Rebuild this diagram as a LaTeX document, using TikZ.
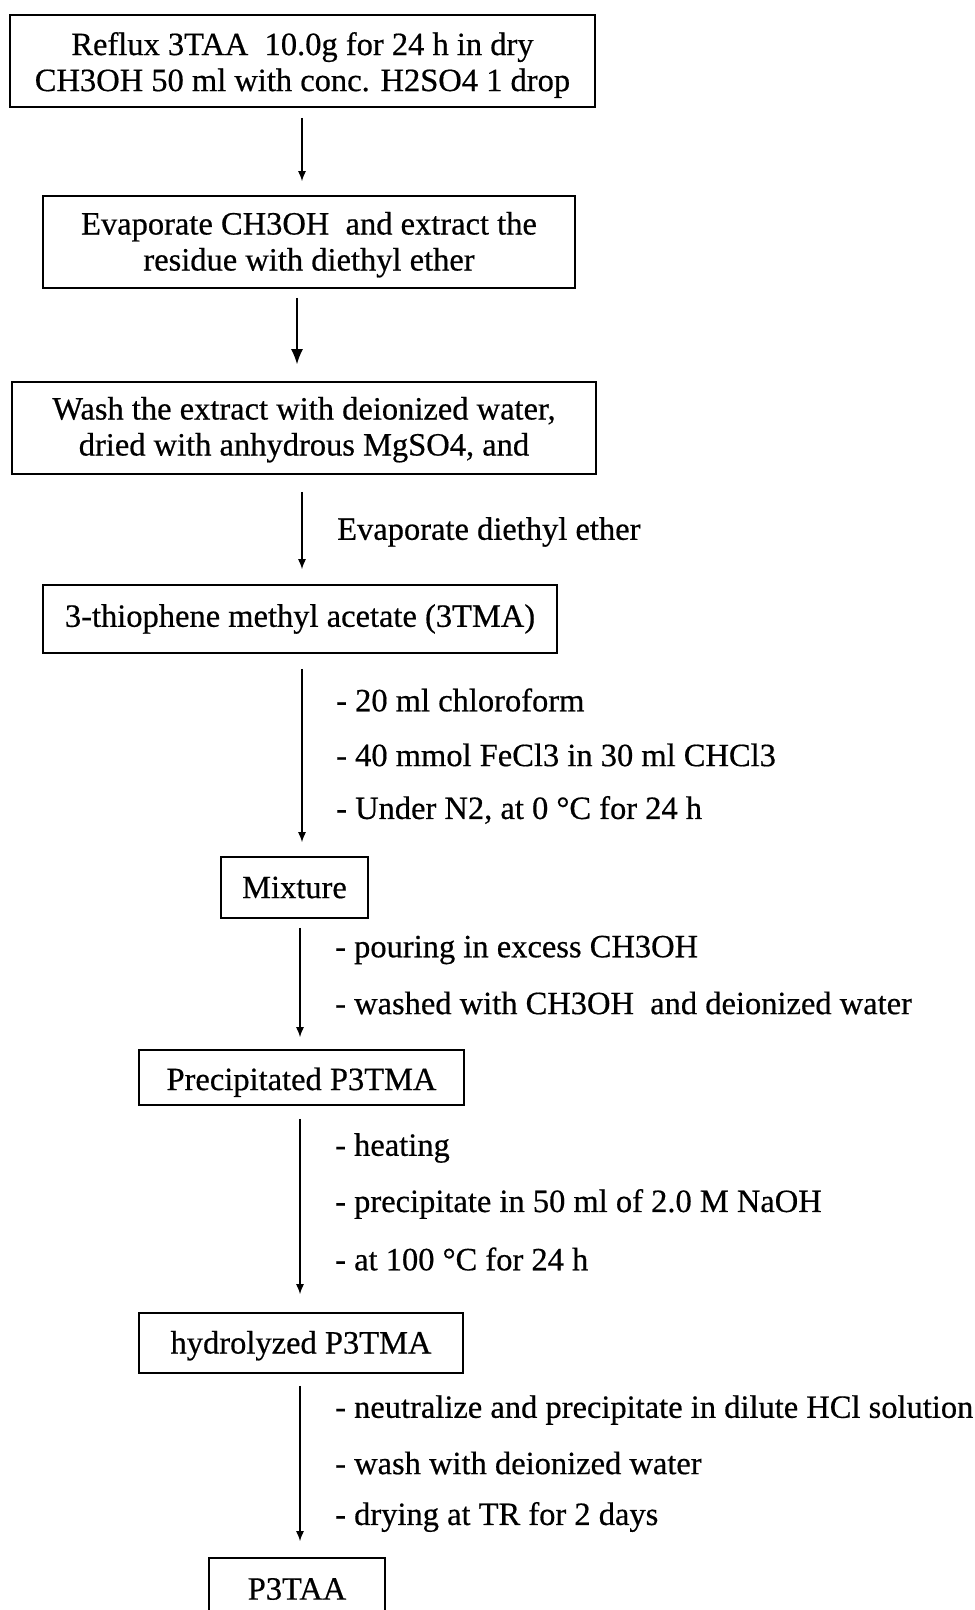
\documentclass[tikz,border=0pt]{standalone}
\usepackage{fontspec}
\setmainfont{Liberation Serif}[FakeBold=0.5]
\usetikzlibrary{arrows.meta}
\begin{document}
\begin{tikzpicture}[x=1pt,y=-1pt,
  box/.style={draw=black, line width=1.6pt, rectangle, inner sep=0pt, align=center,
    font=\fontsize{32.5}{36}\selectfont},
  lbl/.style={anchor=west, inner sep=0pt, font=\fontsize{32.5}{36}\selectfont},
  arr/.style={line width=1.4pt, -{Latex[length=10pt,width=8pt]}},
  bigarr/.style={line width=1.4pt, -{Latex[length=15pt,width=12pt]}}]
\useasboundingbox (0,0) rectangle (975,1610);
\fill[white] (0,0) rectangle (975,1610);
\begin{scope}
\clip (0,0) rectangle (975,1610);
\node[box, minimum width=585pt, minimum height=92pt] (b1) at (302.5,61)
  {\rule{0pt}{31pt}Reflux 3TAA\ \ 10.0g for 24 h in dry\\CH3OH 50 ml with conc. H2SO4 1 drop};
\node[box, minimum width=532pt, minimum height=92pt] (b2) at (309,242)
  {\rule{0pt}{28pt}Evaporate CH3OH\ \ and extract the\\residue with diethyl ether};
\node[box, minimum width=584pt, minimum height=92pt] (b3) at (304,428)
  {\rule{0pt}{26pt}Wash the extract with deionized water,\\dried with anhydrous MgSO4, and};
\node[box, minimum width=514pt, minimum height=68pt] (b4) at (300,619)
  {3-thiophene methyl acetate (3TMA)};
\node[box, minimum width=147pt, minimum height=61pt] (b5) at (294.5,887.5)
  {Mixture};
\node[box, minimum width=325pt, minimum height=55pt] (b6) at (301.5,1077.5)
  {\rule{0pt}{32pt}Precipitated P3TMA};
\node[box, minimum width=324pt, minimum height=60pt] (b7) at (301,1343)
  {\rule{0pt}{28pt}hydrolyzed P3TMA};
\node[box, minimum width=176pt, minimum height=62pt] (b8) at (297,1589)
  {P3TAA};
\end{scope}

\coordinate (xa) at (302,0);
\coordinate (xb) at (297,0);
\coordinate (xc) at (300,0);

\draw[arr, shorten <=10pt, shorten >=14pt] (b1.south -| xa) -- (b2.north -| xa);
\draw[bigarr, shorten <=9pt, shorten >=17pt] (b2.south -| xb) -- (b3.north -| xb);
\draw[arr, shorten <=17pt, shorten >=15pt] (b3.south -| xa) -- (b4.north -| xa);
\draw[arr, shorten <=15pt, shorten >=14pt] (b4.south -| xa) -- (b5.north -| xa);
\draw[arr, shorten <=9pt, shorten >=12pt] (b5.south -| xc) -- (b6.north -| xc);
\draw[arr, shorten <=13pt, shorten >=18pt] (b6.south -| xc) -- (b7.north -| xc);
\draw[arr, shorten <=12pt, shorten >=16pt] (b7.south -| xc) -- (b8.north -| xc);

\node[lbl] (l3) at (337,532) {Evaporate diethyl ether};
\node[lbl] (l4a) at (336,700) {- 20 ml chloroform};
\node[lbl] (l4b) at (336,755) {- 40 mmol FeCl3 in 30 ml CHCl3};
\node[lbl] (l4c) at (336,810) {- Under N2, at 0 °C for 24 h};
\node[lbl] (l5a) at (335,950) {- pouring in excess CH3OH};
\node[lbl] (l5b) at (335,1003) {- washed with CH3OH\ \ and deionized water};
\node[lbl] (l6a) at (335,1148) {- heating};
\node[lbl] (l6b) at (335,1204) {- precipitate in 50 ml of 2.0 M NaOH};
\node[lbl] (l6c) at (335,1259) {- at 100 °C for 24 h};
\node[lbl] (l7a) at (335,1410) {- neutralize and precipitate in dilute HCl solution};
\node[lbl] (l7b) at (335,1463) {- wash with deionized water};
\node[lbl] (l7c) at (335,1517) {- drying at TR for 2 days};
\end{tikzpicture}
\end{document}
